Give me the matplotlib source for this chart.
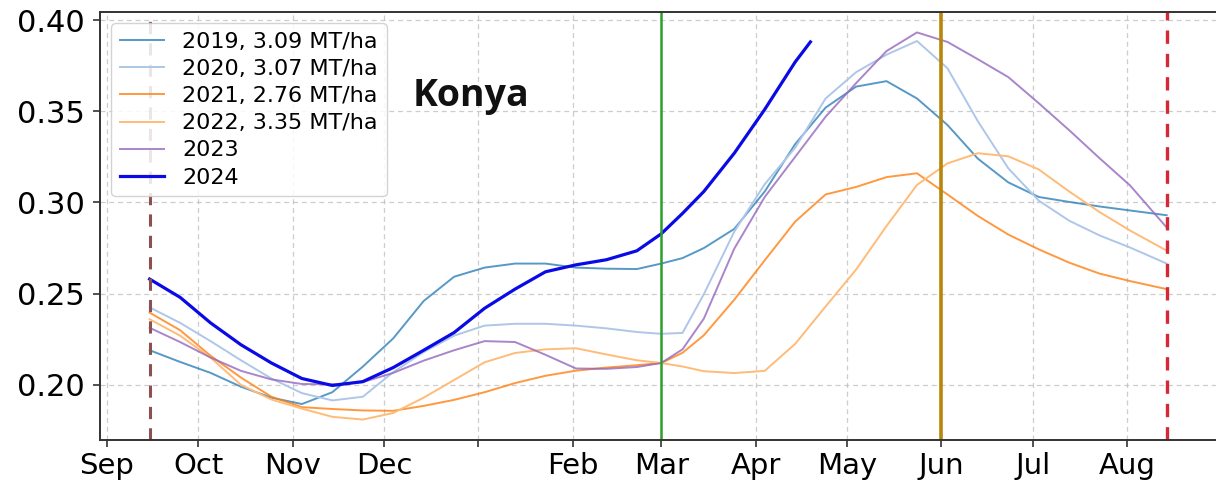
import matplotlib
matplotlib.use("Agg")
import matplotlib.pyplot as plt
import matplotlib.dates as mdates
import numpy as np

# Sampling dates along the season (Sep -> Aug), shared by past years
season_dates = [
    "2023-09-15", "2023-09-25", "2023-10-05", "2023-10-15", "2023-10-25",
    "2023-11-04", "2023-11-14", "2023-11-24", "2023-12-04", "2023-12-14",
    "2023-12-24", "2024-01-03", "2024-01-13", "2024-01-23", "2024-02-02",
    "2024-02-12", "2024-02-22", "2024-03-01", "2024-03-08", "2024-03-15",
    "2024-03-25", "2024-04-04", "2024-04-14", "2024-04-24", "2024-05-04",
    "2024-05-14", "2024-05-24", "2024-06-03", "2024-06-13", "2024-06-23",
    "2024-07-03", "2024-07-13", "2024-07-23", "2024-08-02", "2024-08-14",
]

ndvi_2019 = [0.219, 0.2126, 0.2066, 0.199, 0.193, 0.1895, 0.196, 0.210, 0.2255,
             0.246, 0.2593, 0.2643, 0.2665, 0.2665, 0.2643, 0.2637, 0.2635, 0.2665,
             0.2695, 0.275, 0.2855, 0.306, 0.332, 0.352, 0.3635, 0.3665, 0.357,
             0.3425, 0.324, 0.311, 0.303, 0.3003, 0.2978, 0.2956, 0.293]
ndvi_2020 = [0.2425, 0.234, 0.224, 0.2135, 0.2035, 0.1955, 0.1915, 0.1935, 0.207,
             0.218, 0.227, 0.2325, 0.2335, 0.2335, 0.2325, 0.231, 0.229, 0.228,
             0.2285, 0.2497, 0.284, 0.310, 0.330, 0.357, 0.3714, 0.381, 0.3885,
             0.3736, 0.3445, 0.3187, 0.301, 0.290, 0.2819, 0.2753, 0.2665]
ndvi_2021 = [0.2396, 0.230, 0.216, 0.204, 0.1935, 0.1878, 0.1868, 0.186, 0.1858,
             0.1885, 0.1918, 0.196, 0.201, 0.205, 0.2078, 0.2095, 0.2108, 0.212,
             0.2176, 0.2272, 0.2467, 0.2683, 0.2895, 0.3044, 0.3085, 0.3139, 0.316,
             0.3044, 0.2926, 0.2824, 0.2743, 0.267, 0.261, 0.2569, 0.2525]
ndvi_2022 = [0.236, 0.227, 0.215, 0.200, 0.192, 0.187, 0.1825, 0.181, 0.1846,
             0.193, 0.2027, 0.2124, 0.2175, 0.2195, 0.2201, 0.2167, 0.2135, 0.212,
             0.2101, 0.2075, 0.2065, 0.2077, 0.2225, 0.243, 0.2632, 0.2871, 0.3096,
             0.3214, 0.327, 0.3253, 0.3181, 0.306, 0.2947, 0.2846, 0.2736]
ndvi_2023 = [0.2313, 0.2235, 0.215, 0.2077, 0.203, 0.2005, 0.2003, 0.2015, 0.2066,
             0.2133, 0.219, 0.224, 0.2235, 0.2165, 0.209, 0.2088, 0.2098, 0.212,
             0.2195, 0.2363, 0.2747, 0.303, 0.325, 0.347, 0.3654, 0.383, 0.3932,
             0.388, 0.3785, 0.3687, 0.3544, 0.3396, 0.3242, 0.3093, 0.2863]

# Current season, available up to mid-April
dates_2024 = season_dates[:23] + ["2024-04-19"]
ndvi_2024 = [0.258, 0.248, 0.234, 0.222, 0.212, 0.2035, 0.1997, 0.2018, 0.2095,
             0.219, 0.2287, 0.242, 0.2525, 0.262, 0.2658, 0.2686, 0.2735, 0.2828,
             0.294, 0.306, 0.327, 0.351, 0.377, 0.388]

series_labels = ["2019, 3.09 MT/ha", "2020, 3.07 MT/ha", "2021, 2.76 MT/ha",
                 "2022, 3.35 MT/ha", "2023", "2024"]

month_ticks = ["2023-09-01", "2023-10-01", "2023-11-01", "2023-12-01",
               "2024-01-01", "2024-02-01", "2024-03-01", "2024-04-01",
               "2024-05-01", "2024-06-01", "2024-07-01", "2024-08-01"]
month_labels = ["Sep", "Oct", "Nov", "Dec", "", "Feb", "Mar", "Apr",
                "May", "Jun", "Jul", "Aug"]

season_start = "2023-09-15"
season_end = "2024-08-14"
spring_mark = "2024-03-01"
summer_mark = "2024-06-01"

y_ticks = [0.20, 0.25, 0.30, 0.35, 0.40]
region = "Konya"


def to_num(ds):
    return mdates.date2num(np.array(ds, dtype="datetime64[D]"))


x = to_num(season_dates)
x24 = to_num(dates_2024)

fig = plt.figure(figsize=(12.16, 4.91), dpi=100)
x_left = to_num(["2023-09-01"])[0] - 2.3
x_right = to_num(["2024-09-01"])[0] + 2.0
px_per_day = 3.045
ax_w = (x_right - x_left) * px_per_day / 1216
ax = fig.add_axes([100 / 1216, 51 / 491, ax_w, 428 / 491])

hist_style = dict(lw=1.4)
ax.plot(x, ndvi_2019, color="#1f77b4", alpha=0.75, label=series_labels[0], **hist_style)
ax.plot(x, ndvi_2020, color="#aec7e8", label=series_labels[1], **hist_style)
ax.plot(x, ndvi_2021, color="#ff7f0e", alpha=0.8, label=series_labels[2], **hist_style)
ax.plot(x, ndvi_2022, color="#ffbb78", label=series_labels[3], **hist_style)
ax.plot(x, ndvi_2023, color="#9467bd", alpha=0.8, label=series_labels[4], **hist_style)
ax.plot(x24, ndvi_2024, color="#0a0ae6", lw=2.3, label=series_labels[5])

ax.axvline(to_num([season_start])[0], color="#8c5050", lw=2.2, ls=(0, (4, 3)))
ax.axvline(to_num([spring_mark])[0], color="#2ca02c", lw=1.8)
ax.axvline(to_num([summer_mark])[0], color="#b8860b", lw=2.6)
ax.axvline(to_num([season_end])[0], color="#d62738", lw=2.4, ls=(0, (4, 3)))

ax.set_xlim(x_left, x_right)
ax.set_ylim(0.1698, 0.4044)
ax.set_xticks(to_num(month_ticks))
ax.set_xticklabels(month_labels)
ax.set_yticks(y_ticks)
ax.set_yticklabels([f"{v:.2f}" for v in y_ticks])
ax.tick_params(axis="x", labelsize=21, length=5, width=1.2, color="#333333")
ax.tick_params(axis="y", labelsize=22, length=5, width=1.2, color="#333333", pad=6)
ax.grid(True, ls=(0, (4, 3)), color="#b8b8b8", lw=0.9, alpha=0.7)
for s in ax.spines.values():
    s.set_linewidth(1.4)
    s.set_color("#333333")

leg = ax.legend(loc="upper left", fontsize=16, labelspacing=0.32,
                handlelength=2.0, framealpha=0.85, edgecolor="#cccccc")

ax.text(0.2776, 0.8037, region, transform=ax.transAxes, ha="left", va="center",
        fontsize=27, fontweight="bold", family=["Open Sans", "DejaVu Sans"],
        color="#111111")

fig.savefig("out.png", dpi=100)
